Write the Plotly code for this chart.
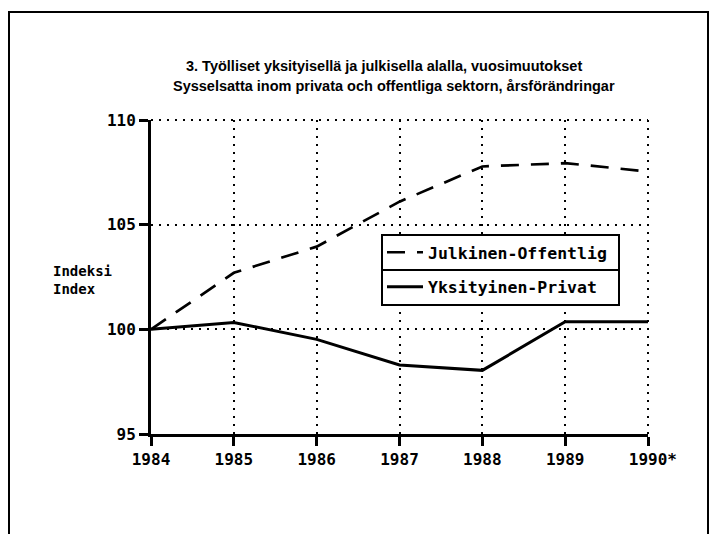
import plotly.graph_objects as go

years = [1984, 1985, 1986, 1987, 1988, 1989, 1990]
tick_labels = ["1984", "1985", "1986", "1987", "1988", "1989", "\u00a01990*"]
julkinen = [100.0, 102.7, 103.95, 106.1, 107.78, 107.94, 107.54]
yksityinen = [100.0, 100.33, 99.52, 98.3, 98.04, 100.36, 100.36]
y_ticks = [95, 100, 105, 110]

title_l1 = "3. Työlliset yksityisellä ja julkisella alalla, vuosimuutokset"
title_l2 = "Sysselsatta inom privata och offentliga sektorn, årsförändringar"

MONO = "DejaVu Sans Mono"
TITLE_FONT = "Liberation Sans, Arial, sans-serif"

W, H = 714, 534
L, R, T, B = 151, 66, 120, 100
pw, ph = W - L - R, H - T - B

DOT = "2px,6px"


def px2paper(x, y):
    return (x - L) / pw, (H - B - y) / ph


fig = go.Figure()
fig.add_trace(go.Scatter(
    x=years, y=julkinen, mode="lines", name="Julkinen-Offentlig",
    legendgroup="a",
    line=dict(color="black", width=2.7, dash="18px,12px"),
))
fig.add_trace(go.Scatter(
    x=years, y=yksityinen, mode="lines", name="Yksityinen-Privat",
    legendgroup="b",
    line=dict(color="black", width=3),
))

lx, ly = px2paper(382, 235)
fig.update_layout(
    width=W, height=H,
    margin=dict(l=L, r=R, t=T, b=B),
    paper_bgcolor="white", plot_bgcolor="white",
    showlegend=True, hovermode=False,
    legend=dict(
        x=lx, y=ly, xanchor="left", yanchor="top",
        borderwidth=0, bgcolor="rgba(0,0,0,0)",
        font=dict(family=MONO, size=16.5, color="black", weight="bold"),
        traceorder="grouped", tracegroupgap=10, itemwidth=36,
    ),
    xaxis=dict(
        range=[1984, 1990], tickmode="array", tickvals=years, ticktext=tick_labels,
        showline=True, linecolor="black", linewidth=3,
        ticks="outside", ticklen=9, tickwidth=2.5, tickcolor="black",
        showgrid=True, gridcolor="black", gridwidth=2, griddash=DOT,
        zeroline=False,
        tickfont=dict(family=MONO, size=16, color="black", weight="bold"),
    ),
    yaxis=dict(
        range=[95, 110], tickmode="array", tickvals=y_ticks,
        showline=True, linecolor="black", linewidth=3,
        ticks="outside", ticklen=9, tickwidth=2.5, tickcolor="black",
        showgrid=True, gridcolor="black", gridwidth=2, griddash=DOT,
        zeroline=False,
        tickfont=dict(family=MONO, size=16, color="black", weight="bold"),
    ),
)

# edge gridlines (top and right) that plotly omits at the plot border
fig.add_shape(type="line", xref="paper", yref="paper", x0=0, x1=1, y0=1, y1=1,
              line=dict(color="black", width=2, dash=DOT), layer="below")
fig.add_shape(type="line", xref="paper", yref="paper", x0=1, x1=1, y0=0, y1=1,
              line=dict(color="black", width=2, dash=DOT), layer="below")

# title lines
t1x, t1y = px2paper(384, 66)
t2x, t2y = px2paper(394, 86)
fig.add_annotation(x=t1x, y=t1y, xref="paper", yref="paper", text=title_l1,
                   showarrow=False, xanchor="center", yanchor="middle",
                   font=dict(family=TITLE_FONT, size=14.5, color="black", weight="bold"))
fig.add_annotation(x=t2x, y=t2y, xref="paper", yref="paper", text=title_l2,
                   showarrow=False, xanchor="center", yanchor="middle",
                   font=dict(family=TITLE_FONT, size=14.5, color="black", weight="bold"))

# y axis label
ax_, ay_ = px2paper(51, 280)
fig.add_annotation(x=ax_, y=ay_, xref="paper", yref="paper", text="Indeksi<br>Index",
                   showarrow=False, xanchor="left", yanchor="middle", align="left",
                   font=dict(family=MONO, size=14, color="black", weight="bold"))

# legend box with divider
b0x, b0y = px2paper(382, 235)
b1x, b1y = px2paper(619, 305)
fig.add_shape(type="rect", xref="paper", yref="paper", x0=b0x, x1=b1x, y0=b1y, y1=b0y,
              line=dict(color="black", width=2), fillcolor="white", layer="above")
_, dy = px2paper(382, 270)
fig.add_shape(type="line", xref="paper", yref="paper", x0=b0x, x1=b1x, y0=dy, y1=dy,
              line=dict(color="black", width=2), layer="above")

# outer frame
f0x, f0y = px2paper(9, 12)
f1x, f1y = px2paper(708, 545)
fig.add_shape(type="rect", xref="paper", yref="paper", x0=f0x, x1=f1x, y0=f1y, y1=f0y,
              line=dict(color="black", width=2), layer="below")

fig.write_html("out.html", config={"displayModeBar": False},
               post_script="document.body.style.margin='0px';")
